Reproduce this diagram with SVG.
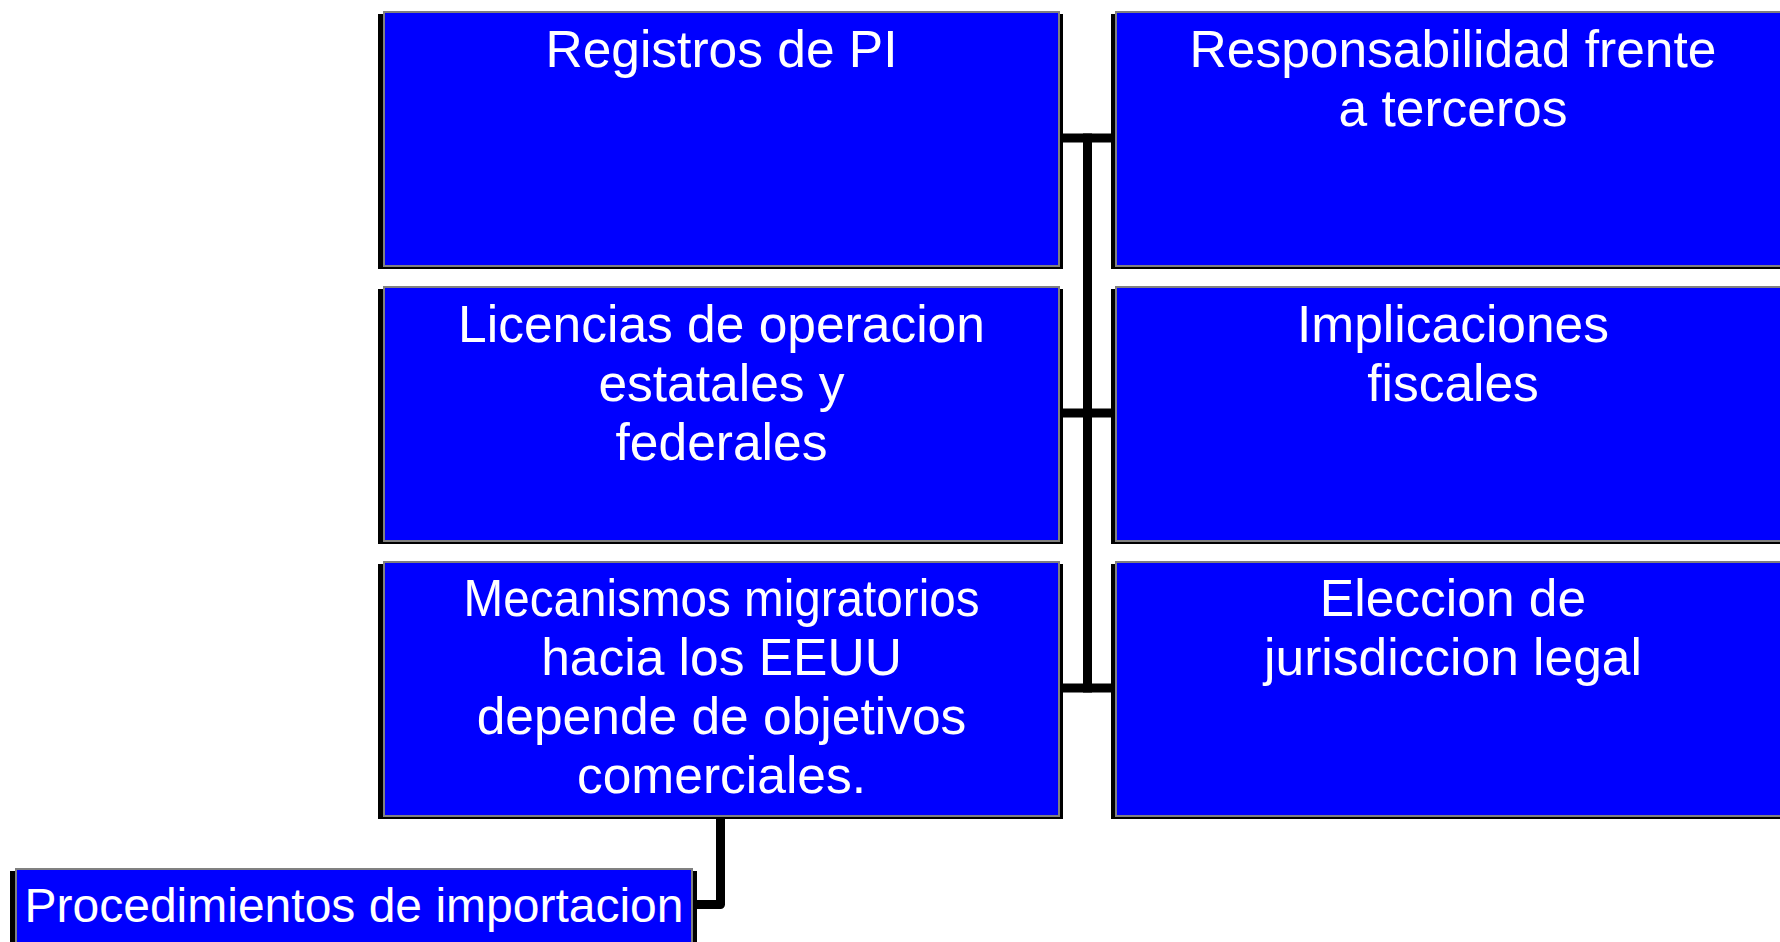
<svg xmlns="http://www.w3.org/2000/svg" width="1780" height="942" viewBox="0 0 1780 942">
<style>
.sh{fill:#000}
.bx{fill:#0000FF;stroke:#808080;stroke-width:2}
.t{font-family:"Liberation Sans",Arial,sans-serif;font-size:51.5px;fill:#FFFFFF;text-anchor:middle}
.c{fill:none;stroke:#000;stroke-width:9}
</style>
<rect width="1780" height="942" fill="#FFFFFF"/>
<g id="connectors">
<path class="c" d="M1087.5 133.5 V692.5"/>
<path class="c" d="M1060 138 H1112"/>
<path class="c" d="M1060 413 H1112"/>
<path class="c" d="M1060 688 H1112"/>
<path class="c" d="M720.5 817 V904.5 H695" stroke-linejoin="round"/>
</g>
<g id="registros">
<rect class="sh" x="378" y="14" width="685" height="255"/>
<rect class="bx" x="384" y="12" width="675" height="254"/>
<text class="t" x="721.5" y="67">Registros de PI</text>
</g>
<g id="licencias">
<rect class="sh" x="378" y="289" width="685" height="255"/>
<rect class="bx" x="384" y="287" width="675" height="254"/>
<text class="t" x="721.5" y="342">Licencias de operacion</text>
<text class="t" x="721.5" y="401">estatales y</text>
<text class="t" x="721.5" y="460">federales</text>
</g>
<g id="mecanismos">
<rect class="sh" x="378" y="564" width="685" height="255"/>
<rect class="bx" x="384" y="562" width="675" height="254"/>
<text class="t" x="721.5" y="616" textLength="516" lengthAdjust="spacingAndGlyphs">Mecanismos migratorios</text>
<text class="t" x="721.5" y="675">hacia los EEUU</text>
<text class="t" x="721.5" y="734">depende de objetivos</text>
<text class="t" x="721.5" y="793">comerciales.</text>
</g>
<g id="responsabilidad">
<rect class="sh" x="1111" y="14" width="685" height="255"/>
<rect class="bx" x="1116" y="12" width="675" height="254"/>
<text class="t" x="1453" y="67">Responsabilidad frente</text>
<text class="t" x="1453" y="126">a terceros</text>
</g>
<g id="implicaciones">
<rect class="sh" x="1111" y="289" width="685" height="255"/>
<rect class="bx" x="1116" y="287" width="675" height="254"/>
<text class="t" x="1453" y="342">Implicaciones</text>
<text class="t" x="1453" y="401">fiscales</text>
</g>
<g id="eleccion">
<rect class="sh" x="1111" y="564" width="685" height="255"/>
<rect class="bx" x="1116" y="562" width="675" height="254"/>
<text class="t" x="1453" y="616">Eleccion de</text>
<text class="t" x="1453" y="675">jurisdiccion legal</text>
</g>
<g id="procedimientos">
<rect class="sh" x="10" y="871" width="687" height="100"/>
<rect class="bx" x="16" y="869" width="676" height="100"/>
<text class="t" x="354" y="922" style="font-size:48px">Procedimientos de importacion</text>
</g>
</svg>
